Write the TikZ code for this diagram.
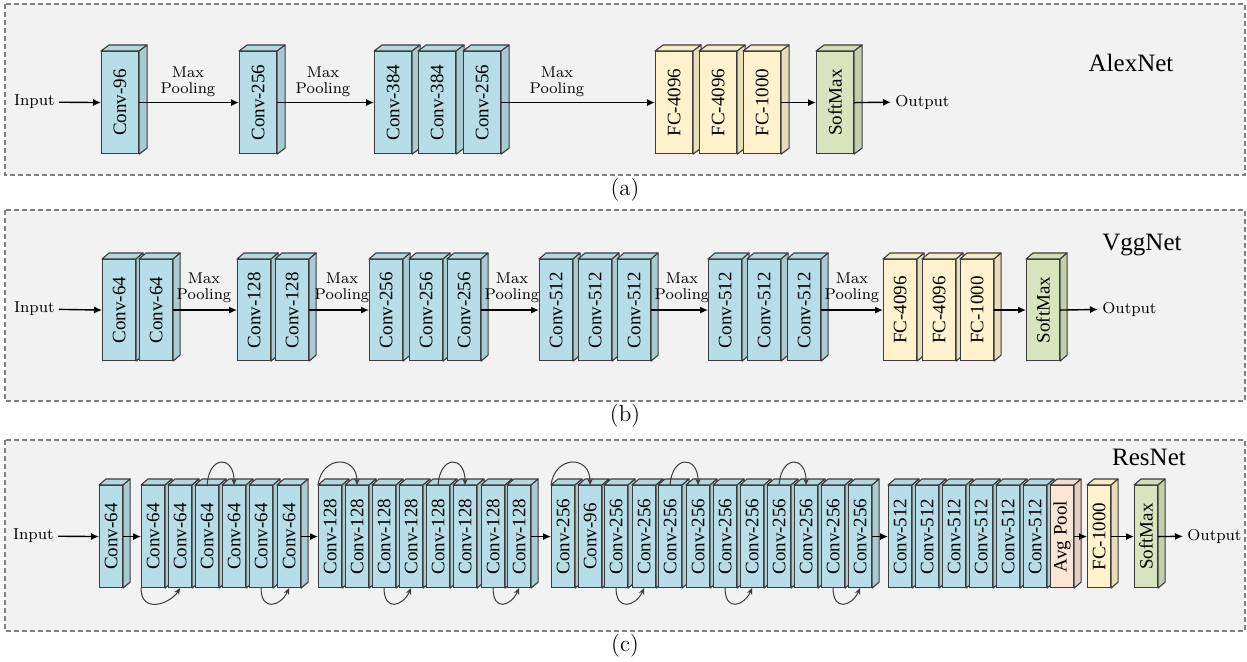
\documentclass[tikz,border=0pt]{standalone}
\usepackage{fontspec}
\newfontfamily\tnr{Liberation Serif}
\usetikzlibrary{arrows.meta}
\definecolor{bgc}{HTML}{F2F2F2}
\definecolor{dashc}{HTML}{808080}
\definecolor{edgec}{HTML}{3C3C3C}
\definecolor{cblue}{HTML}{B7DEE8}
\definecolor{cyel}{HTML}{FFF2CC}
\definecolor{cgrn}{HTML}{D7E4BD}
\definecolor{cpch}{HTML}{FCE4D6}
\def\bdx{8}\def\bdy{6}\def\bw{18.5pt}\def\bh{51pt}
\newcommand\mkblock[5]{%
  \node[blk,fill=#4] (#1) at (#2,#3) {\rotatebox{90}{#5}};
  \draw[blkedge,fill=#4!97!black] (#1.north west) -- ++(\bdx,-\bdy) -- ([shift={(\bdx,-\bdy)}]#1.north east) -- (#1.north east) -- cycle;
  \draw[blkedge,fill=#4!91!black] (#1.north east) -- ([shift={(\bdx,-\bdy)}]#1.north east) -- ([shift={(\bdx,-\bdy)}]#1.south east) -- (#1.south east) -- cycle;
}
\tikzset{
  panel/.style={fill=bgc, draw=dashc, line width=0.6pt, dash pattern=on 2.5pt off 1.5pt},
  blk/.style={draw=edgec, line width=0.55pt, inner sep=0pt, anchor=north west,
    minimum width=\bw, minimum height=\bh, font=\tnr\fontsize{9.5}{10}\selectfont},
  blkedge/.style={draw=edgec, line width=0.55pt, line join=round},
  arr/.style={draw=black, line width=0.7pt, -{Latex[length=4pt,width=3.6pt]}},
  skip/.style={draw=edgec, line width=0.5pt, -{Stealth[length=3.2pt,width=2.8pt]}},
  io/.style={inner sep=2pt, font=\fontsize{7.9}{9}\selectfont},
  mp/.style={inner sep=0pt, anchor=south, align=center, font=\fontsize{7.8}{8}\selectfont},
  ttl/.style={inner sep=0pt, font=\tnr\fontsize{12.5}{14}\selectfont},
  lbl/.style={inner sep=0pt, font=\fontsize{11.5}{13}\selectfont}
}
\begin{document}
\begin{tikzpicture}[x=0.5pt,y=-0.5pt]
\useasboundingbox (0,0) rectangle (1247,661);
\fill[white] (0,0) rectangle (1247,661);
\draw[panel] (5,4) rectangle (1245,175);
\draw[panel] (5,210) rectangle (1245,401);
\draw[panel] (5,440) rectangle (1245,631);
\node[lbl] (la) at (625,190) {(a)};
\node[lbl] (lb) at (625,416) {(b)};
\node[lbl] (lc) at (625,646) {(c)};
\node[ttl] (ta) at (1131,63) {AlexNet};
\node[ttl] (tb) at (1142,245) {VggNet};
\node[ttl] (tc) at (1149,457) {ResNet};
% ---------- (a) AlexNet ----------
\def\bdx{8}\def\bdy{6}\def\bw{18.5pt}\def\bh{51pt}
\foreach \n/\x/\cc/\tx in {1/101/cblue/Conv-96, 2/239/cblue/Conv-256, 3/374/cblue/Conv-384,
  4/418/cblue/Conv-384, 5/463/cblue/Conv-256, 6/655/cyel/FC-4096, 7/699/cyel/FC-4096,
  8/743/cyel/FC-1000, 9/816/cgrn/SoftMax}
  {\mkblock{a\n}{\x}{51}{\cc}{\tx}}
\node[io,anchor=east] (ina) at (59,102) {Input};
\node[io,anchor=west] (outa) at (891,102) {Output};
\draw[arr] (ina) -- (a1.west);
\draw[arr] (a1.east) -- (a2.west);
\draw[arr] (a2.east) -- (a3.west);
\draw[arr] (a5.east) -- (a6.west);
\draw[arr] (a8.east) -- (a9.west);
\draw[arr] (a9.east) -- (outa);
\node[mp] (mpa1) at (188,97.5) {Max\\Pooling};
\node[mp] (mpa2) at (323,97.5) {Max\\Pooling};
\node[mp] (mpa3) at (557,97.5) {Max\\Pooling};
% ---------- (b) VggNet ----------
\def\bdx{7}\def\bdy{6}\def\bw{16.5pt}\def\bh{50.5pt}
\foreach \n/\x/\cc/\tx in {1/102/cblue/Conv-64, 2/139/cblue/Conv-64, 3/237/cblue/Conv-128,
  4/275/cblue/Conv-128, 5/369/cblue/Conv-256, 6/409/cblue/Conv-256, 7/447/cblue/Conv-256,
  8/539/cblue/Conv-512, 9/578/cblue/Conv-512, 10/617/cblue/Conv-512,
  11/708/cblue/Conv-512, 12/747/cblue/Conv-512, 13/787/cblue/Conv-512,
  14/883/cyel/FC-4096, 15/922/cyel/FC-4096, 16/960/cyel/FC-1000, 17/1026/cgrn/SoftMax}
  {\mkblock{v\n}{\x}{259}{\cc}{\tx}}
\node[io,anchor=east] (inb) at (59,309) {Input};
\node[io,anchor=west] (outb) at (1098,309) {Output};
\draw[arr] (inb) -- (v1.west);
\draw[arr] (v2.east) -- (v3.west);
\draw[arr] (v4.east) -- (v5.west);
\draw[arr] (v7.east) -- (v8.west);
\draw[arr] (v10.east) -- (v11.west);
\draw[arr] (v13.east) -- (v14.west);
\draw[arr] (v16.east) -- (v17.west);
\draw[arr] (v17.east) -- (outb);
\node[mp] (mpb1) at (204,303) {Max\\Pooling};
\node[mp] (mpb2) at (342,303) {Max\\Pooling};
\node[mp] (mpb3) at (512,303) {Max\\Pooling};
\node[mp] (mpb4) at (682,303) {Max\\Pooling};
\node[mp] (mpb5) at (852,303) {Max\\Pooling};
% ---------- (c) ResNet ----------
\def\bdx{7}\def\bdy{6}\def\bw{11.5pt}\def\bh{51pt}
\foreach \n/\x/\cc/\tx in {1/99/cblue/Conv-64,
  2/141/cblue/Conv-64, 3/168/cblue/Conv-64, 4/195/cblue/Conv-64, 5/222/cblue/Conv-64,
  6/249/cblue/Conv-64, 7/277/cblue/Conv-64,
  8/318/cblue/Conv-128, 9/345/cblue/Conv-128, 10/372/cblue/Conv-128, 11/399/cblue/Conv-128,
  12/426/cblue/Conv-128, 13/453/cblue/Conv-128, 14/481/cblue/Conv-128, 15/507/cblue/Conv-128,
  16/551/cblue/Conv-256, 17/578/cblue/Conv-96, 18/604/cblue/Conv-256, 19/632/cblue/Conv-256,
  20/658/cblue/Conv-256, 21/686/cblue/Conv-256, 22/713/cblue/Conv-256, 23/740/cblue/Conv-256,
  24/767/cblue/Conv-256, 25/794/cblue/Conv-256, 26/821/cblue/Conv-256, 27/848/cblue/Conv-256,
  28/888/cblue/Conv-512, 29/915/cblue/Conv-512, 30/942/cblue/Conv-512, 31/969/cblue/Conv-512,
  32/996/cblue/Conv-512, 33/1023/cblue/Conv-512,
  34/1050/cpch/Avg Pool, 35/1087/cyel/FC-1000, 36/1134/cgrn/SoftMax}
  {\mkblock{r\n}{\x}{485}{\cc}{\tx}}
\node[io,anchor=east] (inc) at (58,536) {Input};
\node[io,anchor=west] (outc) at (1183,536) {Output};
\draw[arr] (inc) -- (r1.west);
\draw[arr] (r1.east) -- (r2.west);
\draw[arr] (r7.east) -- (r8.west);
\draw[arr] (r15.east) -- (r16.west);
\draw[arr] (r27.east) -- (r28.west);
\draw[arr] (r34.east) -- (r35.west);
\draw[arr] (r35.east) -- (r36.west);
\draw[arr] (r36.east) -- (outc);
% skip connections (top)
\draw[skip] (r4.north) .. controls +(2,-30) and +(0,-30) .. (r5.north);
\draw[skip] (r8.north west) .. controls +(4,-30) and +(0,-30) .. (r9.north);
\draw[skip] (r12.north) .. controls +(2,-30) and +(0,-30) .. (r13.north);
\draw[skip] (r16.north west) .. controls +(4,-30) and +(0,-30) .. (r17.north);
\draw[skip] (r20.north) .. controls +(2,-30) and +(0,-30) .. (r21.north);
\draw[skip] (r24.north) .. controls +(2,-30) and +(0,-30) .. (r25.north);
% skip connections (bottom)
\draw[skip] (r2.south west) .. controls +(0,26) and +(-10,16) .. (r3.south);
\draw[skip] (r6.south) .. controls +(0,24) and +(-8,18) .. (r7.south);
\draw[skip] (r10.south) .. controls +(0,24) and +(-8,18) .. (r11.south);
\draw[skip] (r14.south) .. controls +(0,24) and +(-8,18) .. (r15.south);
\draw[skip] (r18.south) .. controls +(0,24) and +(-8,18) .. (r19.south);
\draw[skip] (r22.south) .. controls +(0,24) and +(-8,18) .. (r23.south);
\draw[skip] (r26.south) .. controls +(0,24) and +(-8,18) .. (r27.south);
\end{tikzpicture}
\end{document}
